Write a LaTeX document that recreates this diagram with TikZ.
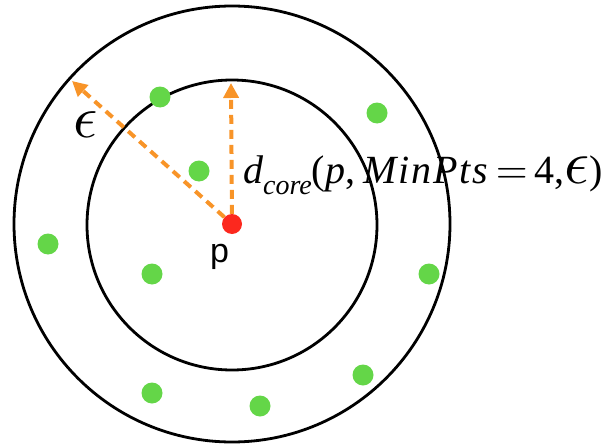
\RequirePackage{fix-cm}
\documentclass[tikz,border=0pt]{standalone}
\usepackage{fontspec}
\newfontfamily\tms{Liberation Serif}
\newfontfamily\hel{Liberation Sans}
\usetikzlibrary{arrows.meta}
\definecolor{dotgreen}{RGB}{100,214,72}
\definecolor{dotred}{RGB}{252,40,30}
\definecolor{arrorange}{RGB}{248,148,40}
\newcommand{\epsmark}[1]{{\normalsize\scalebox{#1}{$\epsilon$}}}
\newcommand{\bigeq}{{\normalsize\scalebox{4.1}{$=$}}}
\begin{document}
\begin{tikzpicture}[x=1pt,y=-1pt,
  ring/.style={draw=black, line width=2.8pt},
  gdot/.style={circle, fill=dotgreen, minimum size=21pt, inner sep=0pt},
  rdot/.style={circle, fill=dotred, minimum size=20pt, inner sep=0pt},
  radiusarrow/.style={draw=arrorange, line width=4pt, dash pattern=on 9pt off 6pt, -{Triangle[length=15pt,width=15pt]}},
  bigtxt/.style={inner sep=0pt, font=\fontsize{40}{48}\selectfont}]
\useasboundingbox (0,0) rectangle (613,444);
% circles
\draw[ring] (232,224) circle[radius=218pt];
\draw[ring] (232,225) circle[radius=145pt];
% centre point
\node[rdot] (p) at (232,224) {};
\coordinate (tipv) at (231,83);
\coordinate (tipd) at (72,81);
\draw[radiusarrow] (p) -- (tipv);
\draw[radiusarrow] (p) -- (tipd);
% neighbour points
\node[gdot] (g1) at (160,97) {};
\node[gdot] (g2) at (377,113) {};
\node[gdot] (g3) at (199,171) {};
\node[gdot] (g4) at (48,244) {};
\node[gdot] (g5) at (152,274) {};
\node[gdot] (g6) at (429,274) {};
\node[gdot] (g7) at (363,375) {};
\node[gdot] (g8) at (152,393) {};
\node[gdot] (g9) at (260,406) {};
% labels
\node[inner sep=0pt] (eps) at (86,125) {\epsmark{6}};
\node[inner sep=0pt, anchor=base, font=\hel\fontsize{34}{40}\selectfont] (plabel) at (219.5,262) {p};
\node[bigtxt, anchor=base west] (dcore) at (243,183.5) {\tms\itshape d\raisebox{-11pt}{\fontsize{28}{34}\selectfont core}\upshape(\itshape p\upshape,\hspace{8pt}\itshape M\kern1.8pt i\kern1.8pt n\kern1.8pt P\kern1.8pt t\kern1.8pt s\hspace{8pt}\bigeq\hspace{7pt}\upshape 4,\epsmark{6.2})};
\end{tikzpicture}
\end{document}
